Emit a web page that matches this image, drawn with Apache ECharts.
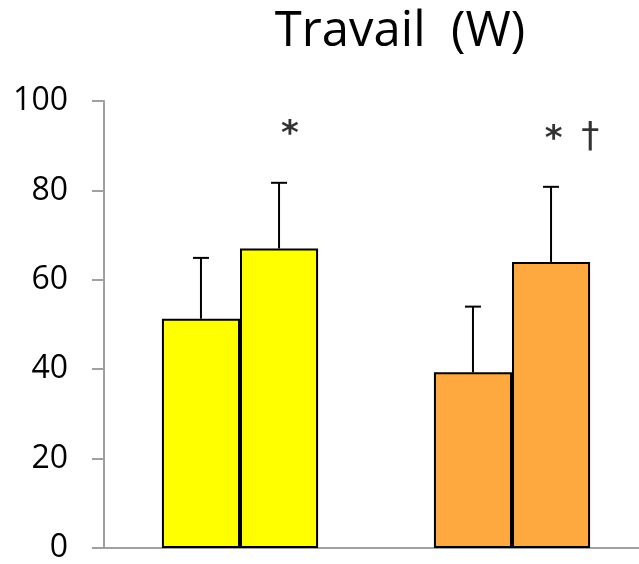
<!DOCTYPE html>
<html>
<head>
<meta charset="utf-8">
<script src="https://cdn.jsdelivr.net/npm/echarts@6/dist/echarts.min.js"></script>
<style>
  html, body { margin: 0; padding: 0; background: #fff; }
  #chart { width: 639px; height: 564px; }
</style>
</head>
<body>
<div id="chart"></div>
<script>
// Two conditions, each with a first and second measurement (mean + SD)
var categories = ['Condition 1', 'Condition 2'];
var firstMeans = [51.3, 39.3];
var firstSD = [13.6, 14.7];
var secondMeans = [67.0, 64.0];
var secondSD = [14.7, 16.8];
// Significance markers above the second bar of each condition
var markerText = ['*', '* \u2020'];
var markerValue = [94.2, 93.0];
var yTicks = [0, 20, 40, 60, 80, 100];

var groupColors = ['#FFFF00', '#FDA940'];
var catGap = 0.426;

var chart = echarts.init(document.getElementById('chart'), null, { renderer: 'canvas' });

function barData(values) {
  return values.map(function (v, i) {
    return { value: v, itemStyle: { color: groupColors[i] } };
  });
}

function errorSeries(means, sds, side) {
  return {
    type: 'custom',
    z: 3,
    silent: true,
    data: means.map(function (m, i) { return [i, m, m + sds[i]]; }),
    renderItem: function (params, api) {
      var cat = api.value(0);
      var bandW = api.size([1, 0])[0];
      var barW = bandW * (1 - catGap) / 2;
      var base = api.coord([cat, api.value(1)]);
      var top = api.coord([cat, api.value(2)]);
      var x = base[0] + side * barW / 2;
      var cap = 8;
      var style = { stroke: '#000', lineWidth: 2 };
      return {
        type: 'group',
        children: [
          { type: 'line', shape: { x1: x, y1: base[1], x2: x, y2: top[1] }, style: style },
          { type: 'line', shape: { x1: x - cap, y1: top[1], x2: x + cap, y2: top[1] }, style: style }
        ]
      };
    }
  };
}

var markerOffsets = [[50, 8], [60, 8]];

var option = {
  animation: false,
  title: {
    text: 'Travail  (W)',
    left: 395,
    top: 3,
    textAlign: 'center',
    textStyle: { fontFamily: 'Open Sans', fontSize: 49, fontWeight: 'normal', color: '#000' }
  },
  grid: { left: 104, top: 101, right: -9, bottom: 16, containLabel: false, outerBoundsMode: 'none' },
  xAxis: {
    type: 'category',
    data: categories,
    axisLine: { lineStyle: { color: '#a0a0a0', width: 2 } },
    axisTick: { show: false },
    axisLabel: { show: false }
  },
  yAxis: {
    type: 'value',
    min: yTicks[0],
    max: yTicks[yTicks.length - 1],
    interval: 20,
    splitLine: { show: false },
    axisLine: { show: true, lineStyle: { color: '#a0a0a0', width: 2 } },
    axisTick: { show: true, length: 12, lineStyle: { color: '#a0a0a0', width: 2 } },
    axisLabel: { margin: 36, fontFamily: 'Open Sans', fontSize: 32, color: '#000' }
  },
  series: [
    {
      type: 'bar',
      data: barData(firstMeans),
      barGap: 0,
      barCategoryGap: (catGap * 100) + '%',
      itemStyle: { borderColor: '#000', borderWidth: 2 },
      z: 2
    },
    {
      type: 'bar',
      data: barData(secondMeans),
      barGap: 0,
      barCategoryGap: (catGap * 100) + '%',
      itemStyle: { borderColor: '#000', borderWidth: 2 },
      z: 2
    },
    errorSeries(firstMeans, firstSD, -1),
    errorSeries(secondMeans, secondSD, 1),
    {
      type: 'scatter',
      symbolSize: 0,
      silent: true,
      data: markerValue.map(function (v, i) {
        return { value: [i, v, markerText[i]], label: { offset: markerOffsets[i] } };
      }),
      label: {
        show: true,
        position: 'inside',
        formatter: function (p) {
          return p.value[2].split(' ').map(function (s) {
            return s === '*' ? '{a|*}' : '{d|' + s + '}';
          }).join('{s| }');
        },
        rich: {
          a: { fontFamily: 'DejaVu Sans', fontSize: 34, fontWeight: 'bold', color: '#000' },
          s: { fontFamily: 'DejaVu Sans', fontSize: 34, color: '#000', padding: [0, 4, 0, 4] },
          d: { fontFamily: 'DejaVu Sans', fontSize: 36, color: '#000', padding: [0, 0, 6, 0] }
        }
      }
    }
  ]
};

chart.setOption(option);
</script>
</body>
</html>
